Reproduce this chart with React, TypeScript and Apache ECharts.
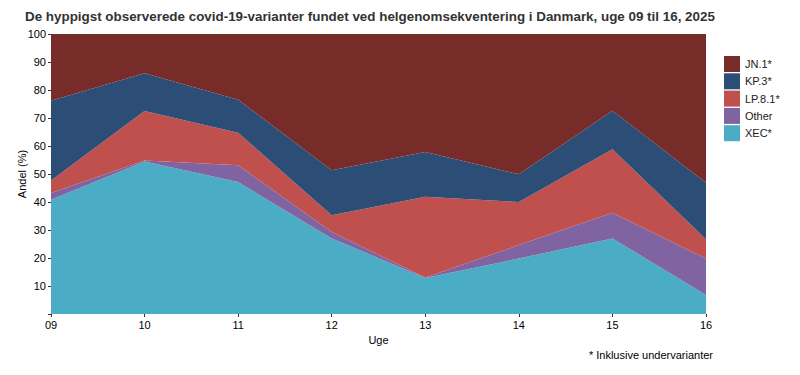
import React, { useEffect, useRef } from "react";
import * as echarts from "echarts";

const weeks = ["09", "10", "11", "12", "13", "14", "15", "16"];
const xec = [40.8, 54.5, 47.1, 27.0, 12.9, 19.8, 27.0, 6.8];
const other = [2.4, 0.3, 6.0, 2.3, 0.1, 4.8, 9.2, 13.0];
const lp81 = [4.5, 17.7, 11.6, 6.0, 28.9, 15.4, 22.6, 6.9];
const kp3 = [28.5, 13.5, 11.8, 16.0, 16.0, 9.9, 13.8, 20.2];
const jn1 = [23.8, 14.0, 23.5, 48.7, 42.2, 50.1, 27.4, 53.1];

const seriesDefs = [
  { name: "XEC*", data: xec, color: "#4BACC6" },
  { name: "Other", data: other, color: "#8064A2" },
  { name: "LP.8.1*", data: lp81, color: "#C0504D" },
  { name: "KP.3*", data: kp3, color: "#2C4D75" },
  { name: "JN.1*", data: jn1, color: "#772C2A" },
];
const legendOrder = ["JN.1*", "KP.3*", "LP.8.1*", "Other", "XEC*"];

const FONT = "'Liberation Sans', Arial, sans-serif";

export default function App() {
  const ref = useRef<HTMLDivElement>(null);
  useEffect(() => {
    if (!ref.current) return;
    const chart = echarts.init(ref.current, null, { renderer: "svg" });
    chart.setOption({
      animation: false,
      textStyle: { fontFamily: FONT },
      title: {
        text: "De hyppigst observerede covid-19-varianter fundet ved helgenomsekventering i Danmark, uge 09 til 16, 2025",
        left: 17,
        top: 2,
        padding: 0,
        textStyle: { fontFamily: FONT, fontSize: 13.4, fontWeight: "bold", color: "#333333" },
      },
      legend: {
        orient: "vertical",
        left: 711,
        top: 43,
        itemWidth: 16,
        itemHeight: 16,
        itemGap: 1.3,
        icon: "rect",
        data: legendOrder,
        textStyle: { fontFamily: FONT, fontSize: 11, color: "#1a1a1a" },
        selectedMode: false,
      },
      grid: { left: 43, right: 102, top: 26, bottom: 69, containLabel: false, outerBoundsMode: "none" },
      xAxis: {
        type: "category",
        data: weeks,
        boundaryGap: false,
        name: "Uge",
        nameLocation: "middle",
        nameGap: 20,
        nameTextStyle: { fontFamily: FONT, fontSize: 11, color: "#000" },
        axisLine: { show: false },
        axisTick: { show: true, length: 3, lineStyle: { color: "#333" } },
        axisLabel: { fontFamily: FONT, fontSize: 11, color: "#000", margin: 5 },
        splitLine: { show: false },
      },
      yAxis: {
        type: "value",
        min: 0,
        max: 100,
        interval: 10,
        axisLine: { show: false },
        axisTick: { show: true, length: 3, lineStyle: { color: "#333" } },
        axisLabel: {
          fontFamily: FONT,
          fontSize: 11,
          color: "#000",
          margin: 5,
          formatter: (v: number) => (v === 0 ? "" : String(v)),
        },
        splitLine: { show: false },
      },
      graphic: [
        {
          type: "text",
          x: 14,
          y: 166,
          rotation: Math.PI / 2,
          style: {
            text: "Andel (%)",
            font: `11px ${FONT}`,
            fill: "#000",
            align: "center",
            verticalAlign: "middle",
          },
        },
        {
          type: "text",
          right: 95,
          top: 341,
          style: { text: "* Inklusive undervarianter", font: `11px ${FONT}`, fill: "#000" },
        },
      ],
      series: seriesDefs.map((s) => ({
        name: s.name,
        type: "line",
        stack: "total",
        data: s.data,
        showSymbol: false,
        symbol: "none",
        lineStyle: { width: 0 },
        itemStyle: { color: s.color },
        areaStyle: { color: s.color, opacity: 1 },
        emphasis: { disabled: true },
      })),
    });
    return () => chart.dispose();
  }, []);
  return <div ref={ref} style={{ width: 800, height: 375 }} />;
}
